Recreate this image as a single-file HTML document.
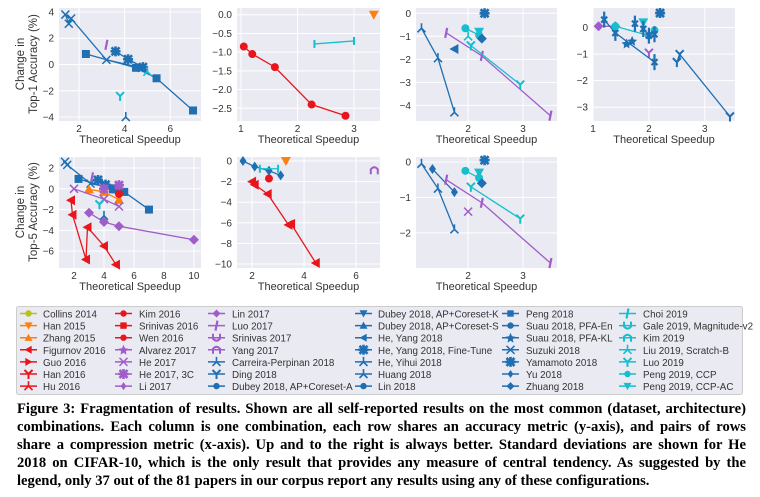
<!DOCTYPE html>
<html><head><meta charset="utf-8"><style>
body{margin:0;background:#fff;width:760px;height:497px;overflow:hidden;font-family:"Liberation Sans",sans-serif}
#cap{position:absolute;left:17px;top:400px;width:729px;font-family:"Liberation Serif",serif;font-weight:bold;font-size:14.6px;line-height:18px;color:#000}
#cap div{white-space:nowrap;text-align:justify;text-align-last:justify}
#cap div.last{text-align-last:left}
</style></head><body>
<svg id="fig" width="760" height="497" style="position:absolute;left:0;top:0" xmlns="http://www.w3.org/2000/svg"></svg>
<div id="cap">
<div>Figure 3: Fragmentation of results. Shown are all self-reported results on the most common (dataset, architecture)</div>
<div>combinations. Each column is one combination, each row shares an accuracy metric (y-axis), and pairs of rows</div>
<div>share a compression metric (x-axis). Up and to the right is always better. Standard deviations are shown for He</div>
<div>2018 on CIFAR-10, which is the only result that provides any measure of central tendency. As suggested by the</div>
<div class="last">legend, only 37 out of the 81 papers in our corpus report any results using any of these configurations.</div>
</div>
<script>
// ---------- data ----------
const xTicks1=[2,4,6], yTicks1=[4,2,0,-2,-4];
const xTicks2=[1,2,3], yTicks2=[0.0,-0.5,-1.0,-1.5,-2.0,-2.5];
const xTicks3=[2,3], yTicks3=[0,-1,-2,-3,-4];
const xTicks4=[1,2,3], yTicks4=[0,-1,-2,-3];
const xTicks5=[2,4,6,8,10], yTicks5=[2,0,-2,-4,-6];
const xTicks6=[2,4,6], yTicks6=[0,-2,-4,-6,-8,-10];
const xTicks7=[2,3], yTicks7=[0,-1,-2];

// panel 1
const p1PengX=[2.3,4.5,5.4,7.0], p1PengY=[0.8,-0.25,-1.05,-3.5];
const p1SuzX=[1.4,1.55,1.65,3.2,4.75], p1SuzY=[3.8,3.1,3.5,0.35,-0.25];
const p1YamX=[3.6,4.15,4.8], p1YamY=[1.0,0.4,-0.2];
const p1LuoX=[3.2], p1LuoY=[1.5];
const p1LiuX=[5.0], p1LiuY=[-0.55];
const p1Luo19X=[3.8], p1Luo19Y=[-2.4];
const p1CarX=[4.05], p1CarY=[-4.0];
// panel 2
const p2WenX=[1.05,1.2,1.6,2.25,2.85], p2WenY=[-0.85,-1.05,-1.4,-2.4,-2.7];
const p2ChoiX=[2.3,3.0], p2ChoiY=[-0.78,-0.7];
const p2HanX=[3.35], p2HanY=[0.0];
// panel 3
const p3HuangX=[1.15,1.45,1.75], p3HuangY=[-0.65,-1.95,-4.3];
const p3LuoX=[1.6,2.25,3.5], p3LuoY=[-0.85,-1.85,-4.45];
const p3Luo19X=[2.05,2.95], p3Luo19Y=[-1.4,-3.1];
const p3LiuX=[2.0], p3LiuY=[-1.0];
const p3CcpX=[1.95,2.2], p3CcpY=[-0.65,-0.95];
const p3CcpacX=[2.2], p3CcpacY=[-0.8];
const p3ZhuX=[2.25], p3ZhuY=[-1.1];
const p3YamX=[2.3], p3YamY=[0.0];
const p3HeX=[1.75], p3HeY=[-1.55];
// panel 4
const p4LinX=[1.1,1.4], p4LinY=[0.05,0.05];
const p4SrX=[2.0], p4SrY=[-0.95];
const p4HeYX=[1.2,1.4,2.1], p4HeYY=[0.3,-0.2,-1.3];
const p4StarX=[1.6,1.7], p4StarY=[-0.6,-0.5];
const p4CcpX=[1.4,2.0,2.1], p4CcpY=[0.05,-0.3,-0.1];
const p4CcpacX=[1.9], p4CcpacY=[0.2];
const p4DingX=[2.5,2.55,3.45], p4DingY=[-1.3,-1.0,-3.35];
const p4YamX=[2.2], p4YamY=[0.55];
const p4MiscX=[1.75,1.9,2.0,2.1], p4MiscY=[0.15,-0.05,-0.3,-0.25];
// panel 5
const p5SuzX=[1.4,1.55,3.1,4.7], p5SuzY=[2.6,2.3,0.5,0.05];
const p5PengX=[2.3,4.6,5.35,7.0], p5PengY=[0.95,-0.05,-0.3,-2.0];
const p5YamX=[3.6,4.1,4.8], p5YamY=[0.85,0.4,0.0];
const p5ZhangX=[3.0,4.0,5.0], p5ZhangY=[-0.05,-0.3,-1.05];
const p5He17X=[2.0,4.0,5.0], p5He17Y=[0.0,-1.0,-1.7];
const p5LinX=[3.0,4.0,5.0,10.0], p5LinY=[-2.3,-3.2,-3.6,-4.9];
const p5FigX=[1.8,1.9,2.8,2.9,4.0,4.8], p5FigY=[-1.1,-2.5,-6.8,-3.7,-5.5,-7.3];
const p5WenX=[5.0], p5WenY=[-0.5];
const p5He3X=[4.0,5.0], p5He3Y=[0.0,0.35];
const p5Luo19X=[3.7], p5Luo19Y=[-1.5];
const p5CarX=[4.0], p5CarY=[-2.6];
const p5LuoX=[3.2], p5LuoY=[1.1];
// panel 6
const p6YuX=[1.65,2.1,2.65,3.1], p6YuY=[0.0,-0.55,-0.95,-1.4];
const p6ChoiX=[2.3,3.0], p6ChoiY=[-0.75,-0.75];
const p6HanX=[3.3], p6HanY=[0.0];
const p6WenX=[2.65], p6WenY=[-1.7];
const p6FigX=[2.0,2.1,2.6,3.4,3.5,4.45], p6FigY=[-2.0,-2.3,-3.2,-6.2,-6.1,-9.9];
const p6YangX=[6.7], p6YangY=[-0.9];
// panel 7
const p7HuangX=[1.15,1.45,1.75], p7HuangY=[-0.05,-0.75,-1.9];
const p7YuX=[1.35,1.75], p7YuY=[-0.2,-0.85];
const p7LuoX=[1.6,2.25,3.5], p7LuoY=[-0.5,-1.15,-2.85];
const p7He17X=[2.0], p7He17Y=[-1.4];
const p7Luo19X=[2.05,2.95], p7Luo19Y=[-0.7,-1.6];
const p7CcpX=[1.95,2.2], p7CcpY=[-0.25,-0.45];
const p7CcpacX=[2.2], p7CcpacY=[-0.3];
const p7ZhuX=[2.25], p7ZhuY=[-0.6];
const p7YamX=[2.3], p7YamY=[0.05];

const legendNames=["Collins 2014","Han 2015","Zhang 2015","Figurnov 2016","Guo 2016","Han 2016","Hu 2016",
"Kim 2016","Srinivas 2016","Wen 2016","Alvarez 2017","He 2017","He 2017, 3C","Li 2017",
"Lin 2017","Luo 2017","Srinivas 2017","Yang 2017","Carreira-Perpinan 2018","Ding 2018","Dubey 2018, AP+Coreset-A",
"Dubey 2018, AP+Coreset-K","Dubey 2018, AP+Coreset-S","He, Yang 2018","He, Yang 2018, Fine-Tune","He, Yihui 2018","Huang 2018","Lin 2018",
"Peng 2018","Suau 2018, PFA-En","Suau 2018, PFA-KL","Suzuki 2018","Yamamoto 2018","Yu 2018","Zhuang 2018",
"Choi 2019","Gale 2019, Magnitude-v2","Kim 2019","Liu 2019, Scratch-B","Luo 2019","Peng 2019, CCP","Peng 2019, CCP-AC"];

// ---------- styling ----------
const OL='#b5c21a',OR='#ff7f0e',RD='#e8161c',PU='#a05cc8',BL='#1f6fb2',CY='#17becf';
const legendColors=[OL,OR,OR,RD,RD,RD,RD, RD,RD,RD,PU,PU,PU,PU, PU,PU,PU,PU,BL,BL,BL, BL,BL,BL,BL,BL,BL,BL, BL,BL,BL,BL,BL,BL,BL, CY,CY,CY,CY,CY,CY,CY];
const legendMarkers=['o','v','^','<','>','1','2', 'o','s','h','*','x','X','d', 'D','|','u','n','2','1','o', 'v','^','<','X','2','2','h', 's','h','*','x','X','d','D', '|','u','n','2','1','o','v'];

const panels=[
 {L:59,R:201,T:8,B:121,x0:1.12,x1:7.35,y0:-4.3,y1:4.3,xt:xTicks1,yt:yTicks1,fmt:v=>String(v)},
 {L:237,R:380,T:8,B:121,x0:0.93,x1:3.46,y0:-2.84,y1:0.18,xt:xTicks2,yt:yTicks2,fmt:v=>v.toFixed(1)},
 {L:416,R:557,T:8,B:121,x0:1.05,x1:3.62,y0:-4.68,y1:0.23,xt:xTicks3,yt:yTicks3,fmt:v=>String(v)},
 {L:593,R:735,T:8,B:121,x0:1.0,x1:3.54,y0:-3.52,y1:0.74,xt:xTicks4,yt:yTicks4,fmt:v=>String(v)},
 {L:59,R:201,T:157,B:268,x0:1.0,x1:10.47,y0:-7.62,y1:3.06,xt:xTicks5,yt:yTicks5,fmt:v=>String(v)},
 {L:237,R:380,T:157,B:268,x0:1.42,x1:6.92,y0:-10.39,y1:0.39,xt:xTicks6,yt:yTicks6,fmt:v=>String(v)},
 {L:416,R:557,T:157,B:268,x0:1.05,x1:3.62,y0:-2.99,y1:0.14,xt:xTicks7,yt:yTicks7,fmt:v=>String(v)}
];
const series=[
 [0,p1PengX,p1PengY,BL,'s',1],[0,p1SuzX,p1SuzY,BL,'x',1],[0,p1YamX,p1YamY,BL,'X',1],[0,p1LuoX,p1LuoY,PU,'|',0],[0,p1LiuX,p1LiuY,CY,'2',0],[0,p1Luo19X,p1Luo19Y,CY,'1',0],[0,p1CarX,p1CarY,BL,'2',0],
 [1,p2WenX,p2WenY,RD,'h',1],[1,p2ChoiX,p2ChoiY,CY,'I',1],[1,p2HanX,p2HanY,OR,'v',0],
 [2,p3HuangX,p3HuangY,BL,'2',1],[2,p3LuoX,p3LuoY,PU,'|',1],[2,p3Luo19X,p3Luo19Y,CY,'1',1],[2,p3LiuX,p3LiuY,CY,'2',0],[2,p3CcpX,p3CcpY,CY,'o',1],[2,p3CcpacX,p3CcpacY,CY,'v',0],[2,p3ZhuX,p3ZhuY,BL,'D',0],[2,p3YamX,p3YamY,BL,'X',0],[2,p3HeX,p3HeY,BL,'<',0],
 [3,p4LinX,p4LinY,PU,'D',1],[3,p4SrX,p4SrY,PU,'1',0],[3,p4HeYX,p4HeYY,BL,'E',1],[3,p4StarX,p4StarY,BL,'*',0],[3,p4CcpX,p4CcpY,CY,'o',1],[3,p4CcpacX,p4CcpacY,CY,'v',0],[3,p4DingX,p4DingY,BL,'1',1],[3,p4YamX,p4YamY,BL,'X',0],[3,p4MiscX,p4MiscY,BL,'E',0],
 [4,p5SuzX,p5SuzY,BL,'x',1],[4,p5PengX,p5PengY,BL,'s',1],[4,p5YamX,p5YamY,BL,'X',1],[4,p5ZhangX,p5ZhangY,OR,'^',1],[4,p5He17X,p5He17Y,PU,'x',1],[4,p5LinX,p5LinY,PU,'D',1],[4,p5FigX,p5FigY,RD,'<',1],[4,p5WenX,p5WenY,RD,'h',0],[4,p5He3X,p5He3Y,PU,'X',0],[4,p5Luo19X,p5Luo19Y,CY,'1',0],[4,p5CarX,p5CarY,BL,'2',0],[4,p5LuoX,p5LuoY,PU,'|',0],
 [5,p6YuX,p6YuY,BL,'d',1],[5,p6ChoiX,p6ChoiY,CY,'I',1],[5,p6HanX,p6HanY,OR,'v',0],[5,p6WenX,p6WenY,RD,'h',0],[5,p6FigX,p6FigY,RD,'<',1],[5,p6YangX,p6YangY,PU,'n',0],
 [6,p7HuangX,p7HuangY,BL,'2',1],[6,p7YuX,p7YuY,BL,'d',1],[6,p7LuoX,p7LuoY,PU,'|',1],[6,p7He17X,p7He17Y,PU,'x',0],[6,p7Luo19X,p7Luo19Y,CY,'1',1],[6,p7CcpX,p7CcpY,CY,'o',1],[6,p7CcpacX,p7CcpacY,CY,'v',0],[6,p7ZhuX,p7ZhuY,BL,'D',0],[6,p7YamX,p7YamY,BL,'X',0]
];

// ---------- drawing ----------
const NS='http://www.w3.org/2000/svg', svg=document.getElementById('fig');
function el(tag,attrs,parent){const e=document.createElementNS(NS,tag);for(const k in attrs)e.setAttribute(k,attrs[k]);(parent||svg).appendChild(e);return e;}
function marker(g,m,x,y,c,s){
 s=s||1;
 if(m==='o'||m==='h')return el('circle',{cx:x,cy:y,r:4*s,fill:c},g);
 if(m==='s')return el('rect',{x:x-4*s,y:y-4*s,width:8*s,height:8*s,fill:c},g);
 if(m==='^')return el('polygon',{points:`${x},${y-5*s} ${x-5*s},${y+4*s} ${x+5*s},${y+4*s}`,fill:c},g);
 if(m==='v')return el('polygon',{points:`${x},${y+5*s} ${x-5*s},${y-4*s} ${x+5*s},${y-4*s}`,fill:c},g);
 if(m==='<')return el('polygon',{points:`${x-5*s},${y} ${x+4*s},${y-5*s} ${x+4*s},${y+5*s}`,fill:c},g);
 if(m==='>')return el('polygon',{points:`${x+5*s},${y} ${x-4*s},${y-5*s} ${x-4*s},${y+5*s}`,fill:c},g);
 if(m==='D')return el('polygon',{points:`${x},${y-5*s} ${x+5*s},${y} ${x},${y+5*s} ${x-5*s},${y}`,fill:c},g);
 if(m==='d')return el('polygon',{points:`${x},${y-5*s} ${x+3.5*s},${y} ${x},${y+5*s} ${x-3.5*s},${y}`,fill:c},g);
 if(m==='*')return el('polygon',{points:`${x},${y-5} ${x+1.5},${y-1.5} ${x+5},${y-1} ${x+2.3},${y+1.5} ${x+3},${y+5} ${x},${y+3} ${x-3},${y+5} ${x-2.3},${y+1.5} ${x-5},${y-1} ${x-1.5},${y-1.5}`,fill:c},g);
 if(m==='x')return el('path',{d:`M${x-4} ${y-4}L${x+4} ${y+4}M${x-4} ${y+4}L${x+4} ${y-4}`,stroke:c,'stroke-width':1.5,fill:'none'},g);
 if(m==='X')return el('path',{d:`M${x-4} ${y-4}L${x+4} ${y+4}M${x-4} ${y+4}L${x+4} ${y-4}M${x} ${y-5}L${x} ${y+5}M${x-5} ${y}L${x+5} ${y}`,stroke:c,'stroke-width':2.6,fill:'none'},g);
 if(m==='|')return el('path',{d:`M${x+1} ${y-5}L${x-1} ${y+5}`,stroke:c,'stroke-width':2.2},g);
 if(m==='I')return el('path',{d:`M${x} ${y-4}L${x} ${y+4}`,stroke:c,'stroke-width':2},g);
 if(m==='E')return el('path',{d:`M${x} ${y-8}L${x} ${y+8}M${x-3} ${y-3}L${x+3} ${y+3}M${x-3} ${y+3}L${x+3} ${y-3}`,stroke:c,'stroke-width':2.2},g);
 if(m==='1')return el('path',{d:`M${x} ${y}L${x} ${y+5}M${x} ${y}L${x-4} ${y-4}M${x} ${y}L${x+4} ${y-4}`,stroke:c,'stroke-width':2,fill:'none'},g);
 if(m==='2')return el('path',{d:`M${x} ${y}L${x} ${y-5}M${x} ${y}L${x-4} ${y+4}M${x} ${y}L${x+4} ${y+4}`,stroke:c,'stroke-width':1.6,fill:'none'},g);
 if(m==='u')return el('path',{d:`M${x-3.5} ${y-4}L${x-3.5} ${y+1}Q${x} ${y+5} ${x+3.5} ${y+1}L${x+3.5} ${y-4}`,stroke:c,'stroke-width':2,fill:'none'},g);
 if(m==='n')return el('path',{d:`M${x-3.5} ${y+4}L${x-3.5} ${y-1}Q${x} ${y-5} ${x+3.5} ${y-1}L${x+3.5} ${y+4}`,stroke:c,'stroke-width':2,fill:'none'},g);
}
panels.forEach((p,i)=>{
 const g=el('g',{});
 
 
 const sx=v=>p.L+(v-p.x0)/(p.x1-p.x0)*(p.R-p.L), sy=v=>p.B-(v-p.y0)/(p.y1-p.y0)*(p.B-p.T);
 const bg=el('rect',{x:p.L,y:p.T,width:p.R-p.L,height:p.B-p.T,fill:'#eaeaf2'},g);
 
 
 p.xt.forEach(t=>{const X=sx(t);el('line',{x1:X,x2:X,y1:p.T,y2:p.B,stroke:'#fff','stroke-width':1},g);
  const tx=el('text',{x:X,y:p.B+11,'font-size':10,fill:'#333','text-anchor':'middle'},g);tx.textContent=t;
  
  });
 p.yt.forEach(t=>{const Y=sy(t);el('line',{x1:p.L,x2:p.R,y1:Y,y2:Y,stroke:'#fff','stroke-width':1},g);
  const tx=el('text',{x:p.L-5,y:Y+3.5,'font-size':10,fill:'#333','text-anchor':'end'},g);tx.textContent=p.fmt(t).replace('-','\u2212');
  
  });
 const xl=el('text',{x:(p.L+p.R)/2,y:p.B+22,'font-size':11,fill:'#333','text-anchor':'middle'},g);xl.textContent='Theoretical Speedup';
 
 
 series.filter(s=>s[0]===i).forEach(s=>{
  const [pi,xs,ys,c,m,line]=s;
  const sg=el('g',{},g);
  
  
  if(line&&xs.length>1)el('polyline',{points:xs.map((v,k)=>sx(v)+','+sy(ys[k])).join(' '),fill:'none',stroke:c,'stroke-width':1.3},sg);
  xs.forEach((v,k)=>{const mk=marker(sg,m,sx(v),sy(ys[k]),c);
   
   });
 });
});
[[64,'Top-1'],[212,'Top-5']].forEach(([cy,t])=>{
 const tx=el('text',{transform:`translate(30,${cy}) rotate(-90)`,'font-size':11.5,fill:'#333','text-anchor':'middle'});
 
 
 const a=el('tspan',{x:0,dy:-6},tx);a.textContent='Change in';
 const b=el('tspan',{x:0,dy:13},tx);b.textContent=t+' Accuracy (%)';
});
// legend
const lg=el('g',{});


el('rect',{x:16.5,y:306.5,width:726,height:88,fill:'#eaeaf2',stroke:'#ccc','stroke-width':1,rx:2},lg);
const colH=[20,115,208,355,502,619], colT=[43,139,232,378,526,643];
legendNames.forEach((n,i)=>{
 const col=Math.floor(i/7),row=i%7,y=313.5+row*12.1;
 const e=el('g',{},lg);
 
 
 el('line',{x1:colH[col],x2:colH[col]+17,y1:y,y2:y,stroke:legendColors[i],'stroke-width':1.5},e);
 marker(e,legendMarkers[i],colH[col]+8.5,y,legendColors[i],0.8);
 const t=el('text',{x:colT[col],y:y+4,'font-size':9.8,fill:'#333'},e);t.textContent=n;
});
</script>
</body></html>
